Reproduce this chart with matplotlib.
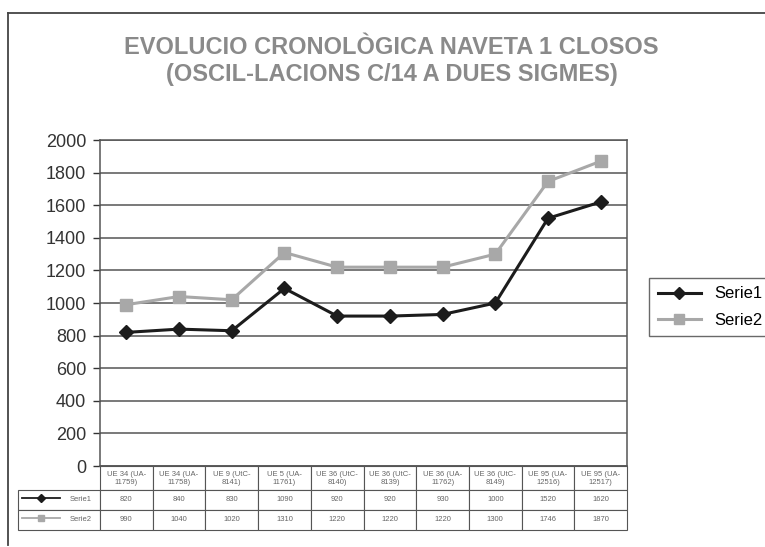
import matplotlib.pyplot as plt
from matplotlib.table import Table
from matplotlib.lines import Line2D

categories = ["UE 34 (UA-\n11759)", "UE 34 (UA-\n11758)", "UE 9 (UtC-\n8141)",
              "UE 5 (UA-\n11761)", "UE 36 (UtC-\n8140)", "UE 36 (UtC-\n8139)",
              "UE 36 (UA-\n11762)", "UE 36 (UtC-\n8149)", "UE 95 (UA-\n12516)",
              "UE 95 (UA-\n12517)"]
serie1 = [820, 840, 830, 1090, 920, 920, 930, 1000, 1520, 1620]
serie2 = [990, 1040, 1020, 1310, 1220, 1220, 1220, 1300, 1746, 1870]
yticks = [0, 200, 400, 600, 800, 1000, 1200, 1400, 1600, 1800, 2000]

plt.rcParams['font.family'] = ['Liberation Sans', 'DejaVu Sans']

fig = plt.figure(figsize=(7.65, 5.47), dpi=100)
ax = fig.add_axes([0.1307, 0.148, 0.689, 0.596])

x = list(range(len(categories)))
ax.plot(x, serie2, color="#a8a8a8", lw=2.2, marker="s", ms=8.5, label="Serie2", zorder=3)
ax.plot(x, serie1, color="#1c1c1c", lw=2.2, marker="D", ms=7.5, label="Serie1", zorder=4)

ax.set_xlim(-0.5, len(categories) - 0.5)
ax.set_ylim(0, 2000)
ax.set_yticks(yticks)
ax.set_xticks([])
ax.tick_params(axis="y", labelsize=13, colors="#333333", length=5, width=1, pad=5)
ax.grid(axis="y", color="#555555", lw=1.1)
ax.set_axisbelow(True)
for s in ax.spines.values():
    s.set_color("#555555")
    s.set_linewidth(1.1)

# title
fig.text(0.512, 0.888, "EVOLUCIO CRONOLÒGICA NAVETA 1 CLOSOS\n(OSCIL-LACIONS C/14 A DUES SIGMES)",
         ha="center", va="center", fontsize=17, fontweight="bold", color="#8a8a8a",
         linespacing=1.2)

# legend (Serie1 first)
h, l = ax.get_legend_handles_labels()
leg = fig.legend(h[::-1], l[::-1], loc="upper left", bbox_to_anchor=(0.838, 0.507),
                 fontsize=12, frameon=True, fancybox=False, handlelength=2.6,
                 borderpad=0.5, labelspacing=0.7, markerscale=0.8)
leg.get_frame().set_edgecolor("#444444")
leg.get_frame().set_linewidth(1.0)

# data table under the plot
tb = Table(ax, bbox=[-0.1556, -0.196, 1.1556, 0.196])
lab_w, col_w = 82, 52.7
hdr_h, row_h = 24, 20
corner = tb.add_cell(0, 0, lab_w, hdr_h, text="")
corner.visible_edges = ""
for j, c in enumerate(categories):
    tb.add_cell(0, j + 1, col_w, hdr_h, text=c, loc="center")
for i, (name, vals) in enumerate([("Serie1", serie1), ("Serie2", serie2)]):
    tb.add_cell(i + 1, 0, lab_w, row_h, text=name, loc="right")
    for j, v in enumerate(vals):
        tb.add_cell(i + 1, j + 1, col_w, row_h, text=str(v), loc="center")
tb.auto_set_font_size(False)
tb.set_fontsize(5.5)
for cell in tb.get_celld().values():
    cell.set_edgecolor("#555555")
    cell.set_linewidth(0.8)
    cell.get_text().set_color("#666666")
ax.add_table(tb)

# legend keys in the table row labels
for y, col, mk in [(-0.0985, "#1c1c1c", "D"), (-0.1595, "#a8a8a8", "s")]:
    ax.add_line(Line2D([-0.148, -0.075], [y, y], transform=ax.transAxes, color=col,
                       lw=1.3, clip_on=False))
    ax.add_line(Line2D([-0.1115], [y], transform=ax.transAxes, color=col,
                       marker=mk, ms=4, clip_on=False))

# outer chart frame: top and left edges
fig.add_artist(Line2D([8 / 765, 1.0], [1 - 13 / 547, 1 - 13 / 547],
                      transform=fig.transFigure, color="#444444", lw=1.3))
fig.add_artist(Line2D([8 / 765, 8 / 765], [1 - 13 / 547, 1 - 545 / 547],
                      transform=fig.transFigure, color="#444444", lw=1.3))

fig.savefig("out.png", dpi=100)
